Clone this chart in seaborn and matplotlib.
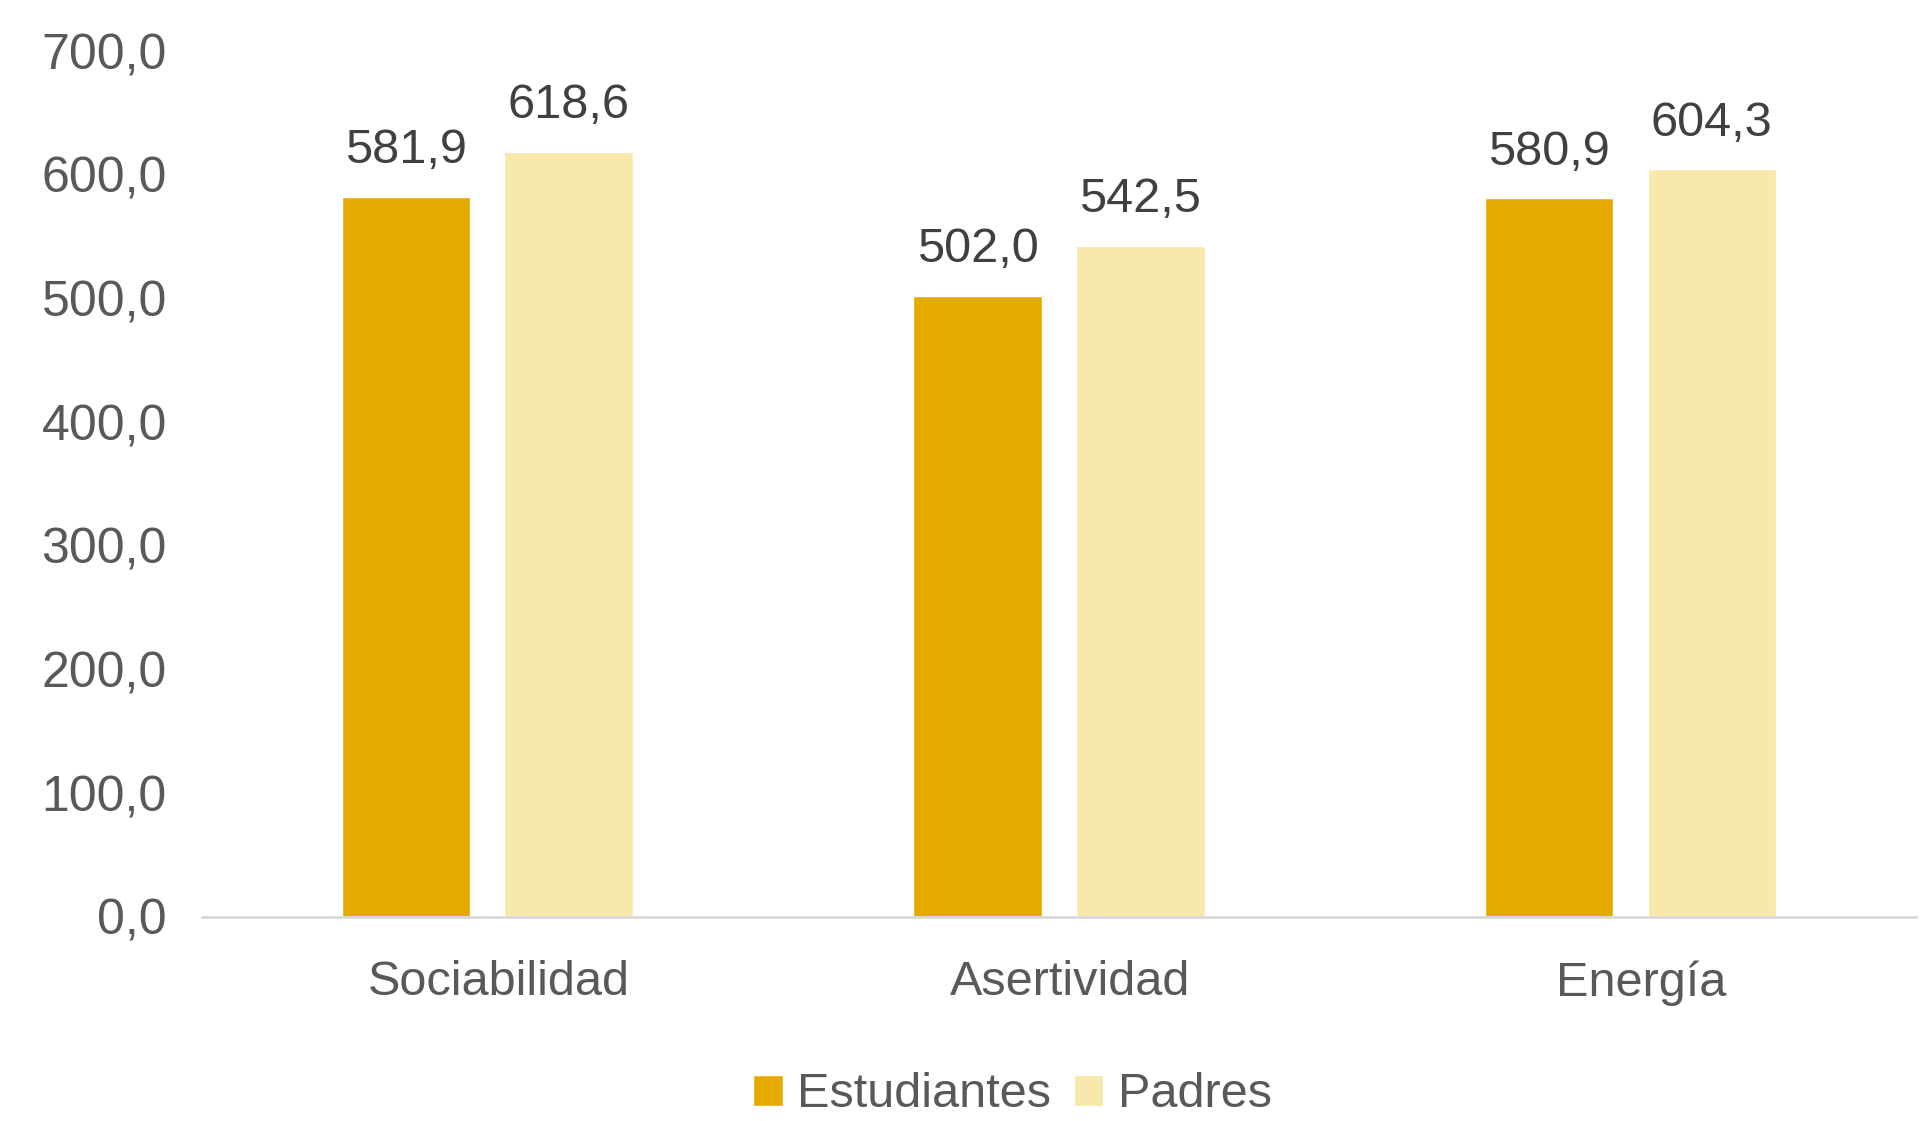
import pandas as pd
import matplotlib.pyplot as plt
import matplotlib.transforms as mtransforms
import seaborn as sns

# data
categorias = ['Sociabilidad', 'Asertividad', 'Energía']
estudiantes = [581.9, 502.0, 580.9]
padres = [618.6, 542.5, 604.3]
grupos = ['Estudiantes', 'Padres']

df = pd.DataFrame({
    'categoria': categorias * 2,
    'grupo': [grupos[0]] * 3 + [grupos[1]] * 3,
    'valor': estudiantes + padres,
})

sns.set_style('white')
plt.rcParams['font.family'] = ['Liberation Sans', 'DejaVu Sans']

fig = plt.figure(figsize=(19.2, 11.21), dpi=100)
ax = fig.add_axes([0.105, 0.182, 0.893, 0.7725])

sns.barplot(data=df, x='categoria', y='valor', hue='grupo',
            palette=['#E5AA00', '#F8E8AB'], width=0.57, gap=0.21,
            saturation=1, ax=ax)

for cont in ax.containers:
    ax.bar_label(cont, labels=[f'{v:.1f}'.replace('.', ',') for v in cont.datavalues],
                 padding=17, fontsize=35, color='#404040')

ax.set_ylim(0, 700)
ax.set_xlim(-0.5, 2.5)
ax.set_yticks(range(0, 701, 100))
ax.set_yticklabels([f'{v},0' for v in range(0, 701, 100)])
ax.tick_params(axis='y', labelsize=36, labelcolor='#595959', length=0, pad=25)
ax.tick_params(axis='x', labelsize=35, labelcolor='#595959', length=0, pad=31)
ax.set_xlabel('')
ax.set_ylabel('')

# category labels sit a little right of the bar group centre
shift = mtransforms.ScaledTranslation(0.11, 0, fig.dpi_scale_trans)
for lbl in ax.get_xticklabels():
    lbl.set_transform(lbl.get_transform() + shift)

for s in ['top', 'right', 'left']:
    ax.spines[s].set_visible(False)
ax.spines['bottom'].set_color('#D9D9D9')
ax.spines['bottom'].set_linewidth(2)

ax.legend(loc='lower center', bbox_to_anchor=(0.473, -0.282), ncol=2, frameon=False,
          fontsize=35, labelcolor='#595959', handlelength=0.6, handleheight=0.6,
          handletextpad=0.3, columnspacing=0.47)

plt.savefig('out.png', dpi=100)
